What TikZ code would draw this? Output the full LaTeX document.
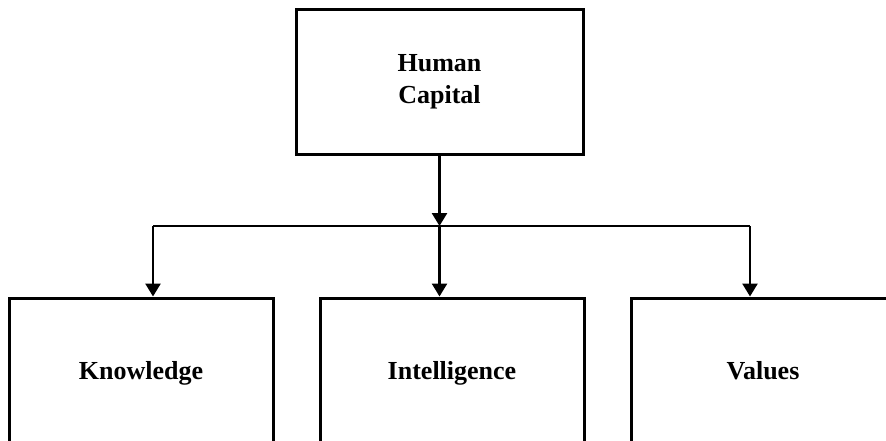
\documentclass[tikz,border=0pt]{standalone}
\usepackage{fontspec}
\setmainfont{Liberation Serif}
\usetikzlibrary{arrows.meta,positioning}
\tikzset{
  capbox/.style={draw=black,line width=3pt,fill=white,align=center,
    font=\fontsize{26}{32}\selectfont\bfseries,inner sep=0pt},
  topbox/.style={capbox,minimum width=287pt,minimum height=145pt},
  partbox/.style={capbox,minimum width=264pt,minimum height=150pt,
    text height=18pt,text depth=6pt},
  edge/.style={-{Triangle[length=13pt,width=15pt]},line width=2.6pt,black},
  rail/.style={line width=2.6pt,black}
}
\begin{document}
\begin{tikzpicture}[x=1pt,y=-1pt]
  \clip (0,0) rectangle (886,440);
  \useasboundingbox (0,0) rectangle (886,440);
  \node[topbox] (hc) at (439.5,81.5) {Human\\Capital};
  \node[partbox] (know) at (141,373) {Knowledge};
  \node[partbox,right=44pt of know] (intel) {Intelligence};
  \node[partbox,right=44pt of intel] (vals) {Values};
  % junctions on the rail
  \coordinate (jl) at (153,226);
  \coordinate (jm) at (hc.south |- jl);
  \coordinate (jr) at (750,226);
  \draw[rail] (jl) -- (jr);
  \draw[edge] (hc.south) -- (jm);
  \draw[edge] (jl) -- (jl |- know.north);
  \draw[edge] (jm) -- (jm |- intel.north);
  \draw[edge] (jr) -- (jr |- vals.north);
\end{tikzpicture}
\end{document}
